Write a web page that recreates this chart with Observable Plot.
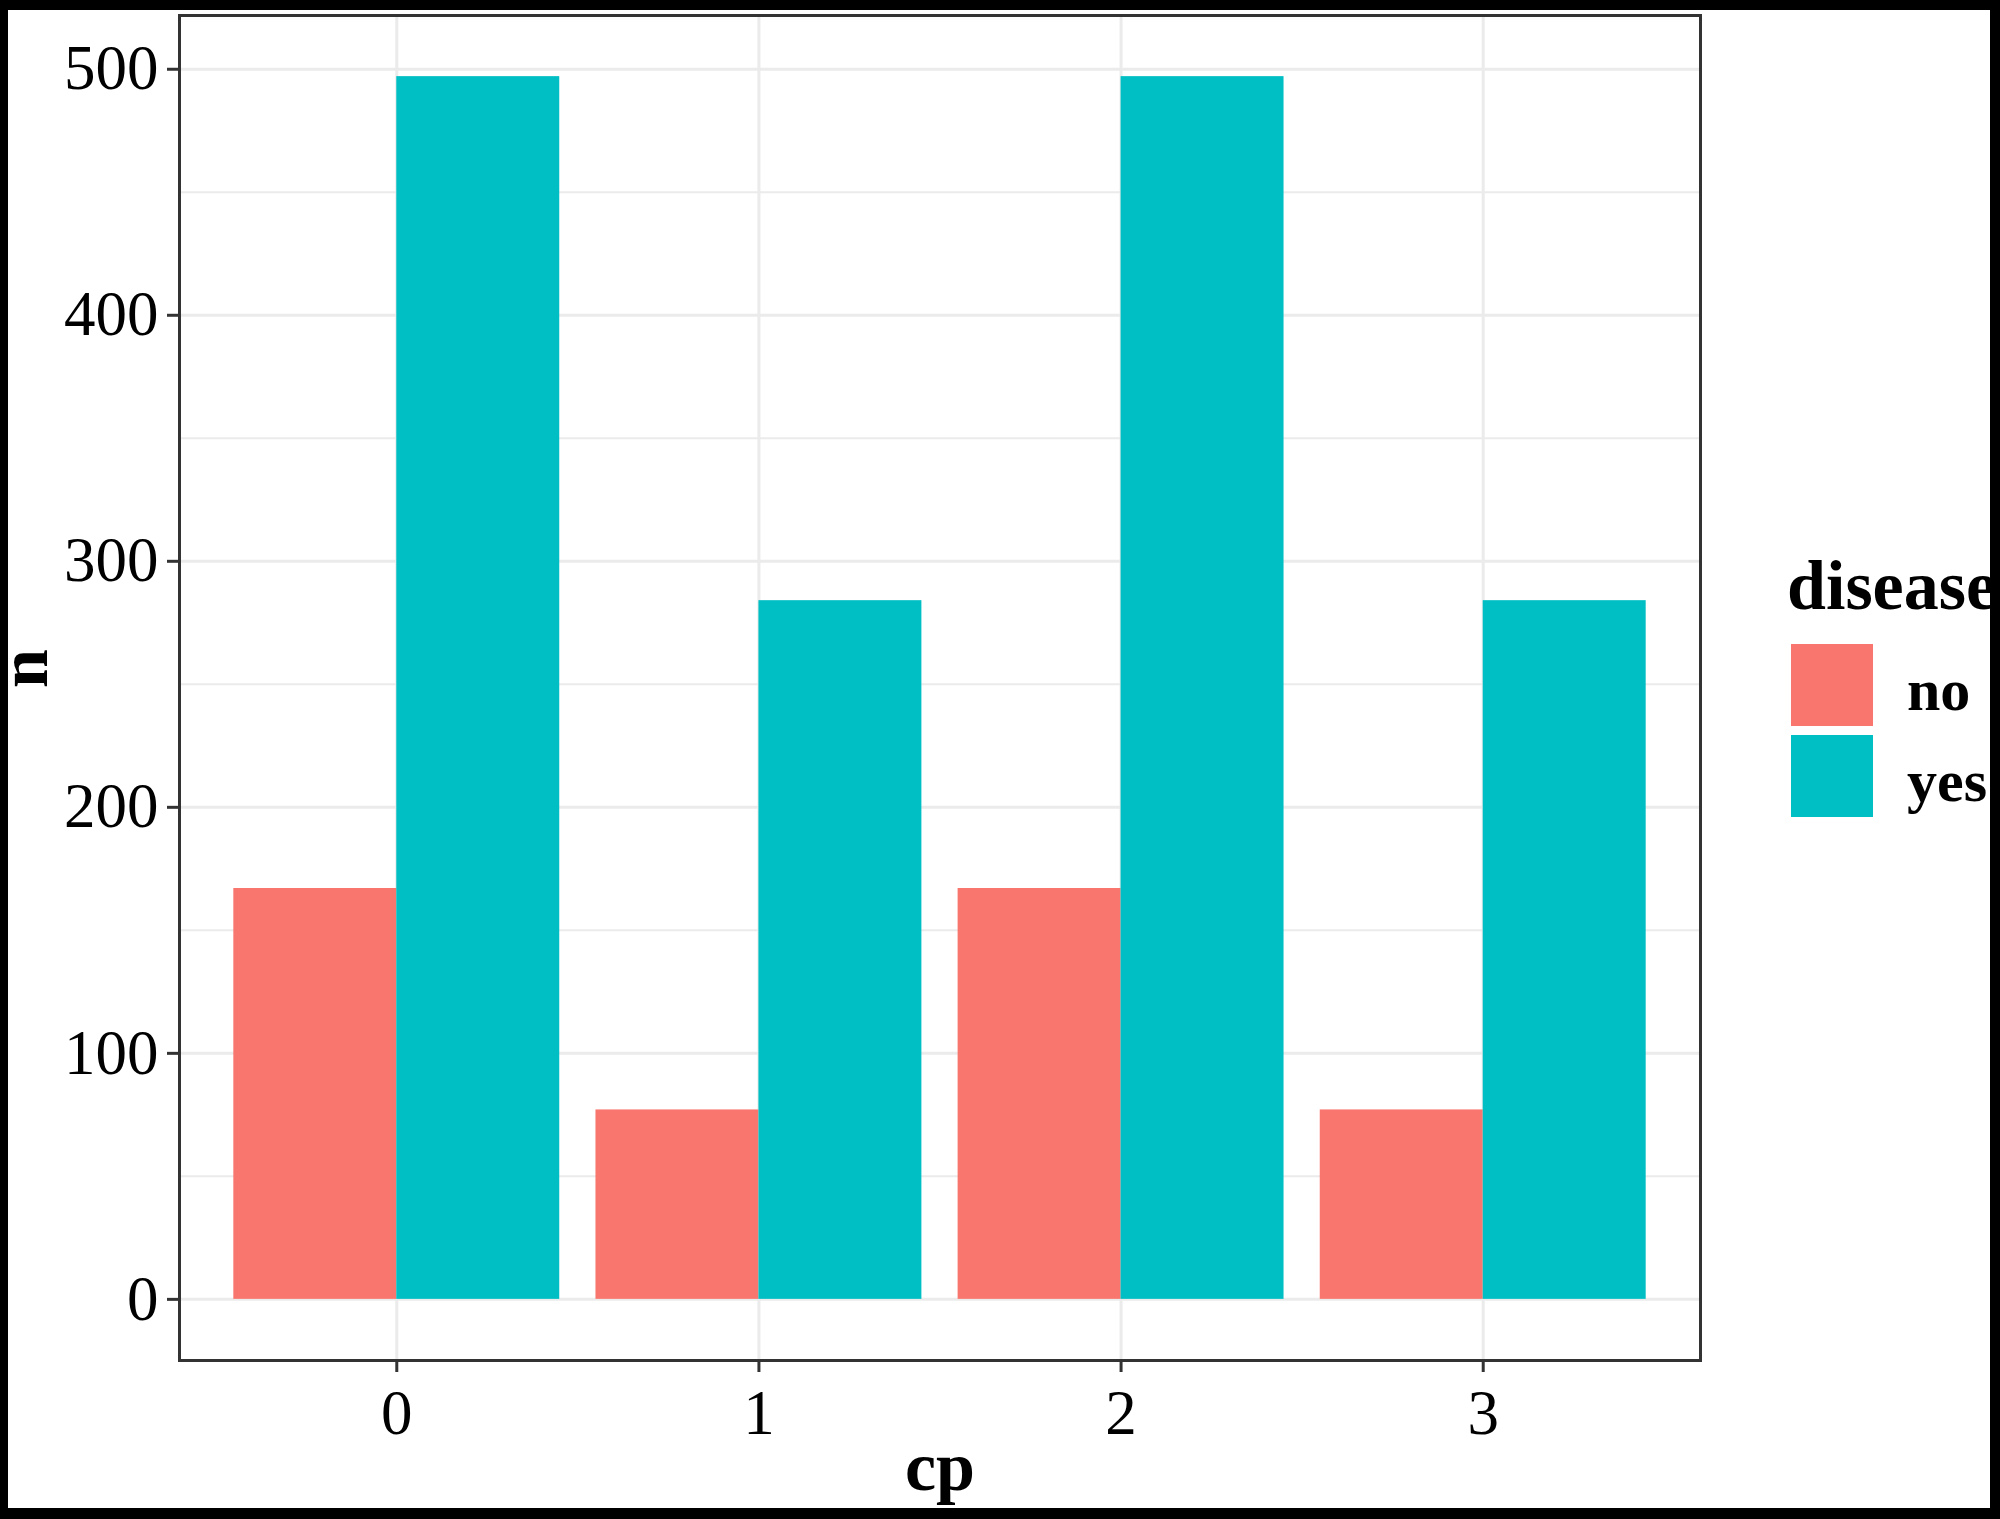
<!DOCTYPE html>
<html>
<head>
<meta charset="utf-8">
<script src="https://cdn.jsdelivr.net/npm/d3@7"></script>
<script src="https://cdn.jsdelivr.net/npm/@observablehq/plot@0.6"></script>
<style>
  html, body { margin: 0; padding: 0; background: #fff; }
  #wrap { position: relative; width: 2000px; height: 1519px; overflow: hidden; background: #fff; }
  #wrap svg { display: block; }
  #legend { position: absolute; left: 0; top: 0; }
  #frame { position: absolute; left: 0; top: 0; width: 2000px; height: 1519px; box-sizing: border-box;
           border-style: solid; border-color: #000; border-width: 10px 10px 11px 8px; pointer-events: none; }
</style>
</head>
<body>
<div id="wrap"></div>
<script>
// ---- data ----
const cpValues = [0, 1, 2, 3];
const diseaseLevels = ["no", "yes"];
const noCounts = [167, 77, 167, 77];
const yesCounts = [497, 284, 497, 284];
const yTicks = [0, 100, 200, 300, 400, 500];
const yMinorTicks = [50, 150, 250, 350, 450];
const diseaseColors = ["#F8766D", "#00BFC4"];

const rows = [];
cpValues.forEach((c, i) => {
  rows.push({cp: c, disease: "no", n: noCounts[i]});
  rows.push({cp: c, disease: "yes", n: yesCounts[i]});
});

const dodgeWidth = 0.9;
const barW = dodgeWidth / diseaseLevels.length;
const x1 = d => d.cp - dodgeWidth / 2 + diseaseLevels.indexOf(d.disease) * barW;
const x2 = d => x1(d) + barW;

const yMax = d3.max(rows, d => d.n);
const yPad = 0.05 * yMax;
const xMin = d3.min(cpValues), xMax = d3.max(cpValues);

const font = "'Liberation Serif', 'Times New Roman', serif";

const plot = Plot.plot({
  width: 2000,
  height: 1519,
  marginLeft: 179,
  marginRight: 300,
  marginTop: 15,
  marginBottom: 159,
  style: {fontFamily: font, background: "transparent", color: "#000"},
  x: {domain: [xMin - 0.6, xMax + 0.6], axis: null},
  y: {domain: [-yPad, yMax + yPad], axis: null},
  color: {domain: diseaseLevels, range: diseaseColors},
  marks: [
    Plot.gridY({ticks: yMinorTicks, stroke: "#ebebeb", strokeOpacity: 1, strokeWidth: 2}),
    Plot.gridY({ticks: yTicks, stroke: "#ebebeb", strokeOpacity: 1, strokeWidth: 3}),
    Plot.gridX({ticks: cpValues, stroke: "#ebebeb", strokeOpacity: 1, strokeWidth: 3}),
    Plot.rect(rows, {x1, x2, y1: 0, y2: "n", fill: "disease"}),
    Plot.frame({stroke: "#333333", strokeWidth: 3}),
    Plot.axisY({ticks: yTicks, tickSize: 12, tickPadding: 9, fontSize: 63, stroke: "#333333", strokeWidth: 3, fill: "#000", label: null, tickFormat: d => String(d)}),
    Plot.axisX({ticks: cpValues, tickSize: 12, tickPadding: 17, fontSize: 63, stroke: "#333333", strokeWidth: 3, fill: "#000", label: null, tickFormat: d => String(d)}),
    Plot.text(["cp"], {frameAnchor: "bottom", dy: 129, fontSize: 70, fontWeight: "bold", fill: "#000"}),
    Plot.text(["n"], {frameAnchor: "left", rotate: -90, dx: -155, fontSize: 70, fontWeight: "bold", fill: "#000"})
  ]
});

const wrap = document.getElementById("wrap");
wrap.appendChild(plot);

// ---- legend, using the plot's color scale ----
const colorScale = plot.scale("color");
const legend = d3.select(wrap).append("svg")
  .attr("id", "legend")
  .attr("width", 2000).attr("height", 1519)
  .style("font-family", font);
legend.append("text")
  .attr("x", 1787).attr("y", 609)
  .attr("font-size", 70)
  .attr("font-weight", "bold")
  .attr("fill", "#000")
  .text("disease");
const keyX = 1791, keyTop = 644, keyW = 82, keyH = 82, keyStep = 91;
colorScale.domain.forEach((lvl, i) => {
  legend.append("rect")
    .attr("x", keyX).attr("y", keyTop + i * keyStep)
    .attr("width", keyW).attr("height", keyH)
    .attr("fill", colorScale.apply(lvl));
  legend.append("text")
    .attr("x", 1907).attr("y", keyTop + i * keyStep + keyH / 2)
    .attr("dy", "0.42em")
    .attr("font-size", 60)
    .attr("font-weight", "bold")
    .attr("fill", "#000")
    .text(lvl);
});

const frame = document.createElement("div");
frame.id = "frame";
wrap.appendChild(frame);
</script>
</body>
</html>
